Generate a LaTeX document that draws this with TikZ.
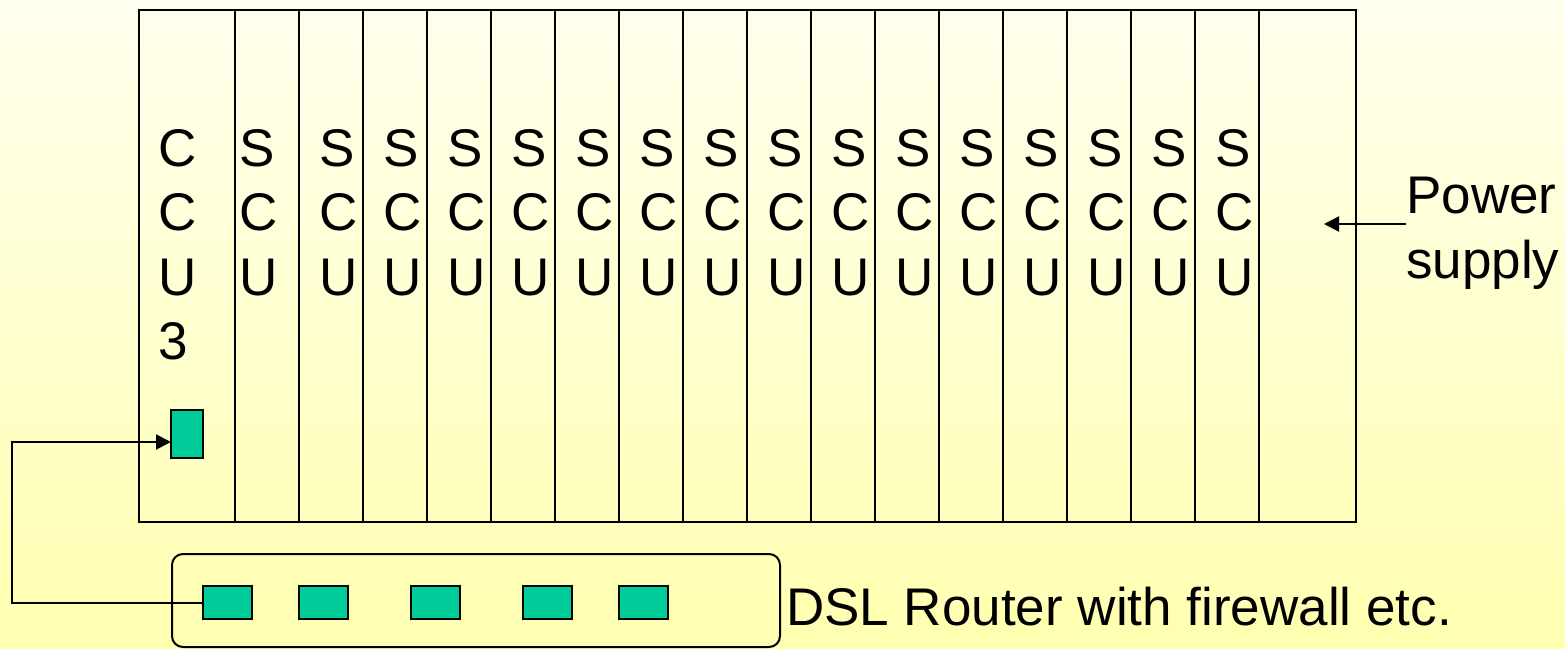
\documentclass[tikz,border=0pt]{standalone}
\usepackage{fontspec}
\setmainfont{Liberation Sans}
\usetikzlibrary{arrows.meta, positioning}
\definecolor{slideTop}{HTML}{FFFFEE}
\definecolor{slideBottom}{HTML}{FFFFB0}
\definecolor{portGreen}{HTML}{00CC99}

\begin{document}
\begin{tikzpicture}[x=1pt, y=-1pt, >={Triangle[length=15pt, width=15pt]},
    font=\fontsize{53}{64.5}\selectfont,
    slot/.style={draw, line width=2pt, minimum height=512pt, inner sep=0pt, outer sep=0pt},
    port/.style={draw, line width=2pt, fill=portGreen, inner sep=0pt, outer sep=0pt},
    stack/.style={anchor=north west, align=left, inner sep=0pt},
    link/.style={->, line width=2pt}]

  \shade[top color=slideTop, bottom color=slideBottom] (0,0) rectangle (1565,648);
  \useasboundingbox (0,0) rectangle (1565,648);

  % rack slots
  \node[slot, minimum width=96pt] (ccu) at (187,266) {};
  \foreach \i in {1,...,16} {
    \node[slot, minimum width=64pt] (scu\i) at ({235+64*(\i-1)+32},266) {};
  }
  \node[slot, minimum width=97pt] (psu) at (1307.5,266) {};

  \node[stack] (ccutxt) at (158,129) {C\\C\\U\\3};
  \node[stack] (scutxt1) at (239,129) {S\\C\\U};
  \foreach \i in {2,...,16} {
    \node[stack] (scutxt\i) at ({235+64*(\i-1)+20},129) {S\\C\\U};
  }

  \node[port, minimum width=32pt, minimum height=48pt] (ccuport) at (187,434) {};

  % router
  \node[draw, line width=2pt, rounded corners=11pt, minimum width=608pt,
        minimum height=93pt, inner sep=0pt] (router) at (476,600.5) {};
  \foreach \n/\x in {1/227.5, 2/323.5, 3/435.5, 4/547.5, 5/643.5} {
    \node[port, minimum width=49pt, minimum height=33pt] (p\n) at (\x,602.5) {};
  }
  \node[anchor=base west, inner sep=0pt] (dsl) at (786,625) {DSL Router with firewall etc.};

  \node[stack] (pwr) at (1406,177) {Power\\supply};
  \coordinate (psuin) at (1324,224);
  \draw[link] (pwr.west |- psuin) -- (psuin);

  \coordinate (bend) at (12,602.5);
  \draw[link] (p1.west) -- (bend) |- ([yshift=-8pt]ccuport.west);

\end{tikzpicture}
\end{document}
